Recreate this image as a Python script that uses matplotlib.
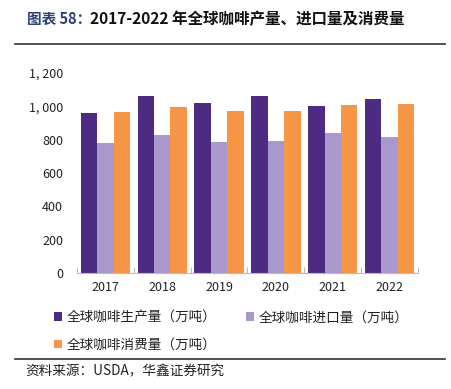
import matplotlib
matplotlib.use("Agg")
import matplotlib.pyplot as plt
import numpy as np
from matplotlib.lines import Line2D

plt.rcParams['font.family'] = ['Noto Sans CJK SC', 'DejaVu Sans']

years = ['2017', '2018', '2019', '2020', '2021', '2022']
production = [962, 1060, 1018, 1064, 1002, 1042]
imports = [780, 828, 784, 790, 840, 818]
consumption = [966, 996, 974, 974, 1008, 1012]
series_names = ['全球咖啡生产量（万吨）', '全球咖啡进口量（万吨）', '全球咖啡消费量（万吨）']
colors = ['#4D2B82', '#A898CC', '#F79646']
yticks = [0, 200, 400, 600, 800, 1000, 1200]
ytick_labels = ['0', '200', '400', '600', '800', '1, 000', '1, 200']

fig = plt.figure(figsize=(4.52, 3.89), dpi=100)
ax = fig.add_axes([77/452, 116/389, 341/452, 200/389])

x = np.arange(len(years))
w = 0.29
bars = []
for i, (vals, c) in enumerate(zip([production, imports, consumption], colors)):
    b = ax.bar(x + (i - 1) * w, vals, width=w, color=c, edgecolor='none', label=series_names[i])
    bars.append(b)

ax.set_xlim(-0.5, len(years) - 0.5)
ax.set_ylim(0, 1200)
ax.set_yticks(yticks)
ax.set_yticklabels(ytick_labels, fontsize=9, color='#222222')
ax.set_xticks(x)
ax.set_xticklabels(years, fontsize=9, color='#222222')
ax.tick_params(axis='both', length=0, pad=6)
ax.tick_params(axis='y', pad=10)
ax.set_xticks(np.arange(-0.5, len(years), 1.0), minor=True)
ax.tick_params(axis='x', which='minor', direction='in', length=4, color='#BBBBBB', width=0.8)
for s in ['top', 'right', 'left']:
    ax.spines[s].set_visible(False)
ax.spines['bottom'].set_color('#BBBBBB')
ax.spines['bottom'].set_linewidth(0.8)

# title
fig.text(27/452, 1 - 19/389, '图表 58：', fontsize=10.5, fontweight='bold', color='#2E4374', va='center', ha='left')
fig.text(90/452, 1 - 19/389, '2017-2022 年全球咖啡产量、进口量及消费量', fontsize=11.2, fontweight='bold', color='#111111', va='center', ha='left')
fig.add_artist(Line2D([15/452, 445/452], [1 - 44/389, 1 - 44/389], color='#333333', lw=1.2))

# legend (row order: production, import / consumption)
order = [0, 2, 1]
leg = fig.legend(handles=[bars[i] for i in order], labels=[series_names[i] for i in order],
                 ncol=2, loc='upper left',
                 bbox_to_anchor=(42/452, 1 - 298/389), frameon=False, fontsize=9.8,
                 handlelength=0.6, handleheight=0.6, handletextpad=0.3,
                 columnspacing=2.2, labelspacing=1.0)
for t in leg.get_texts():
    t.set_color('#222222')

# source
fig.add_artist(Line2D([15/452, 445/452], [1 - 359/389, 1 - 359/389], color='#333333', lw=1.2))
fig.text(25/452, 1 - 371/389, '资料来源：USDA，华鑫证券研究', fontsize=9.8, color='#222222', va='center', ha='left')

fig.savefig('out.png', dpi=100)
